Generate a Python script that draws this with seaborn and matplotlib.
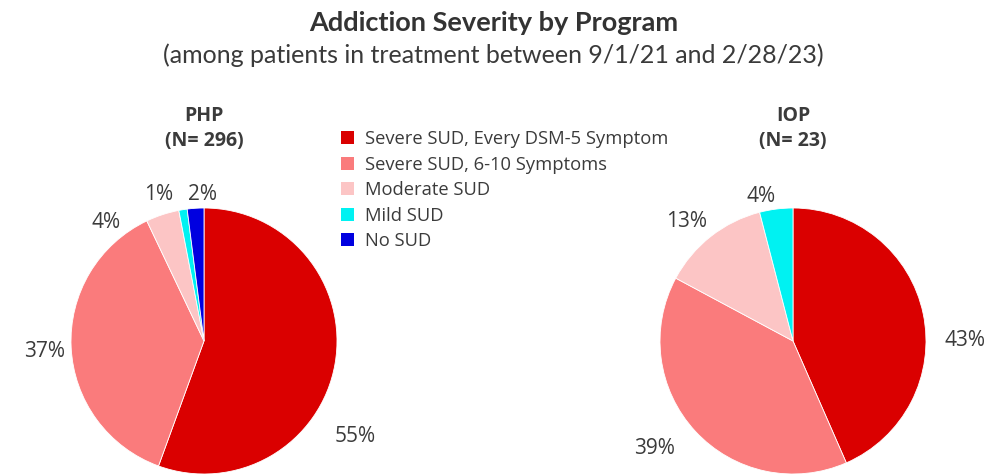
import matplotlib
matplotlib.use("Agg")
import matplotlib.pyplot as plt
import seaborn as sns
from matplotlib.patches import Patch

# categories and colours
categories = ["Severe SUD, Every DSM-5 Symptom", "Severe SUD, 6-10 Symptoms",
              "Moderate SUD", "Mild SUD", "No SUD"]
palette = ["#DA0000", "#FA7B7C", "#FCC5C5", "#00F2F2", "#0000E0"]

# percentages
php_pct = [55, 37, 4, 1, 2]
iop_pct = [43, 39, 13, 4, 0]
php_n = 296
iop_n = 23

# label positions (in units of pie radius), tableau-style placement
php_label_pos = [(1.14, -0.72), (-1.20, -0.08), (-0.74, 0.89), (-0.34, 1.10), (-0.015, 1.10)]
iop_label_pos = [(1.29, 0.0), (-1.04, -0.805), (-0.80, 0.90), (-0.24, 1.09), None]

sns.set_theme(style="white")
plt.rcParams['font.family'] = ['Open Sans', 'DejaVu Sans']

W, H = 987, 474
fig = plt.figure(figsize=(W / 100, H / 100), dpi=100)
fig.patch.set_facecolor("white")

text_col = "#3b3b3b"


def draw_pie(cx, cy, r, values, label_pos, name, n):
    # axes placed so the pie has centre (cx, cy) and radius r in pixels (top-left origin)
    ax = fig.add_axes([(cx - r) / W, (H - cy - r) / H, 2 * r / W, 2 * r / H])
    vals = [v for v in values if v > 0]
    cols = [c for v, c in zip(values, palette) if v > 0]
    ax.pie(vals, colors=cols, startangle=90, counterclock=False, radius=1,
           wedgeprops=dict(edgecolor="white", linewidth=0.6))
    ax.set_xlim(-1, 1)
    ax.set_ylim(-1, 1)
    ax.set_aspect("equal")
    ax.axis("off")
    for v, pos in zip(values, label_pos):
        if v > 0 and pos is not None:
            ax.text(pos[0], pos[1], f"{v}%", ha="center", va="center",
                    fontsize=15, color=text_col, clip_on=False)
    fig.text(cx / W, 1 - 116 / H, name, ha="center", va="center",
             fontsize=14, fontweight="bold", color=text_col)
    fig.text(cx / W, 1 - 141 / H, f"(N= {n})", ha="center", va="center",
             fontsize=14, fontweight="bold", color=text_col)


draw_pie(204, 341, 133, php_pct, php_label_pos, "PHP", php_n)
draw_pie(793, 341, 133, iop_pct, iop_label_pos, "IOP", iop_n)

fig.text(0.5, 1 - 23 / H, "Addiction Severity by Program", ha="center", va="center",
         fontsize=19.5, fontweight="bold", color="#333333", family=["Lato", "DejaVu Sans"])
fig.text(0.5, 1 - 55 / H, "(among patients in treatment between 9/1/21 and 2/28/23)",
         ha="center", va="center", fontsize=18, color="#3a3a3a", family=["Lato", "DejaVu Sans"])

handles = [Patch(facecolor=c, edgecolor="none") for c in palette]
fig.legend(handles, categories, loc="upper left", bbox_to_anchor=(341 / W, 1 - 130 / H),
           frameon=False, fontsize=13.2, handlelength=0.7, handleheight=0.7,
           handletextpad=0.6, labelspacing=0.41, borderpad=0, borderaxespad=0,
           labelcolor=text_col)

fig.savefig("out.png", dpi=100, facecolor="white")
